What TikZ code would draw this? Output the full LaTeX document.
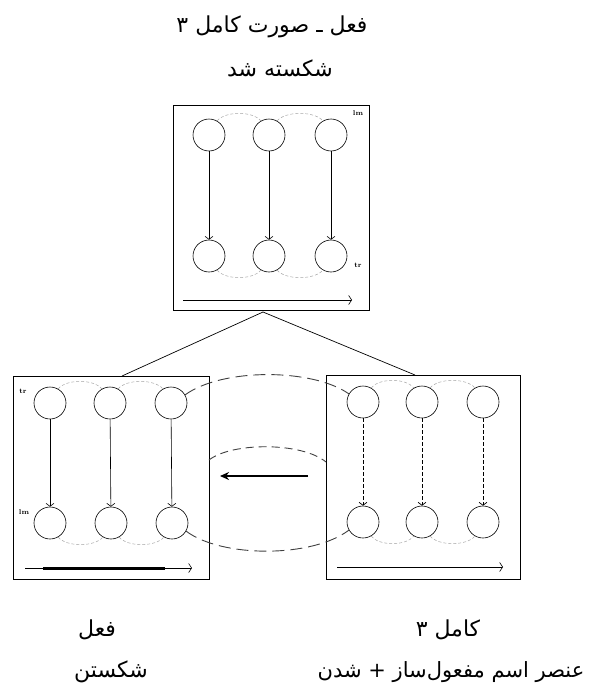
\documentclass[tikz,border=0pt]{standalone}
\usepackage{fontspec}
\usetikzlibrary{arrows.meta,calc}
\newfontfamily\arabicfont[Script=Arabic]{DejaVu Sans}
\TeXXeTstate=1
\begin{document}
\begin{tikzpicture}[x=1pt,y=-1pt,
  cnode/.style={circle,draw,line width=0.6pt,minimum size=32pt,inner sep=0pt},
  boxnode/.style={draw,line width=0.9pt,inner sep=0pt},
  link/.style={draw=gray!70,line width=0.5pt,dash pattern=on 3pt off 2pt},
  bigdash/.style={draw=black!75,line width=0.9pt,dash pattern=on 12pt off 6pt},
  solidarr/.style={line width=0.6pt,-{Straight Barb[length=3pt,width=8pt]}},
  dasharr/.style={line width=0.7pt,dash pattern=on 4pt off 2pt,-{Straight Barb[length=3pt,width=8pt]}},
  timearr/.style={line width=0.6pt,-{Straight Barb[length=3pt,width=9pt]}},
  tag/.style={font=\fontsize{7}{7}\selectfont\bfseries,inner sep=0pt},
  ttext/.style={font=\arabicfont\fontsize{22}{22}\selectfont,inner sep=0pt}
]
\useasboundingbox (0,0) rectangle (589,688);
% boxes
\node[boxnode,minimum width=196pt,minimum height=205pt] (tbox) at (271,207.5) {};
\node[boxnode,minimum width=196pt,minimum height=203pt] (lbox) at (111,477.5) {};
\node[boxnode,minimum width=194pt,minimum height=204pt] (rbox) at (423,477) {};
% top box circles
\node[cnode] (t1) at (209,135) {};
\node[cnode] (t2) at (269,135) {};
\node[cnode] (t3) at (331,135) {};
\node[cnode] (t4) at (209,256) {};
\node[cnode] (t5) at (269,256) {};
\node[cnode] (t6) at (331,256) {};
% left box circles
\node[cnode] (l1) at (50,403) {};
\node[cnode] (l2) at (110,403) {};
\node[cnode] (l3) at (171,403) {};
\node[cnode] (l4) at (50,523) {};
\node[cnode] (l5) at (111,523) {};
\node[cnode] (l6) at (172,523) {};
% right box circles
\node[cnode] (r1) at (363,402) {};
\node[cnode] (r2) at (422,402) {};
\node[cnode] (r3) at (483,402) {};
\node[cnode] (r4) at (363,522) {};
\node[cnode] (r5) at (422,522) {};
\node[cnode] (r6) at (483,522) {};
% vertical arrows
\foreach \a/\b in {t1/t4,t2/t5,t3/t6,l1/l4,l2/l5,l3/l6}
  \draw[solidarr] (\a) -- (\b);
\foreach \a/\b in {r1/r4,r2/r5,r3/r6}
  \draw[dasharr] (\a) -- (\b);
% gray links
\foreach \a/\b in {t1/t2,t2/t3,l1/l2,l2/l3,r1/r2,r2/r3}
  \draw[link] (\a.60) .. controls ($(\a.60)+(8,-10)$) and ($(\b.120)+(-8,-10)$) .. (\b.120);
\foreach \a/\b in {t4/t5,t5/t6,l4/l5,l5/l6,r4/r5,r5/r6}
  \draw[link] (\a.-60) .. controls ($(\a.-60)+(8,10)$) and ($(\b.-120)+(-8,10)$) .. (\b.-120);
% tags
\node[tag] (tg1) at (358,113) {lm};
\node[tag] (tg2) at (358,265) {tr};
\node[tag] (tg3) at (23,391) {tr};
\node[tag] (tg4) at (24,512) {lm};
% time arrows
\coordinate (ta1) at (183,300); \coordinate (ta2) at (352,300);
\draw[timearr] (ta1) -- (ta2);
\coordinate (la1) at (25,568); \coordinate (la2) at (192,568);
\coordinate (lt1) at (43,568); \coordinate (lt2) at (165,568);
\draw[timearr] (la1) -- (la2);
\draw[line width=3pt] (lt1) -- (lt2);
\coordinate (ra1) at (337,567); \coordinate (ra2) at (503,567);
\draw[timearr] (ra1) -- (ra2);
% tree lines
\coordinate (apex) at (263,312);
\coordinate (lj) at (122,376);
\coordinate (rj) at (415,375);
\draw[line width=0.7pt] (lj) -- (apex) -- (rj);
% big dashed connections
\draw[bigdash] (l3.30) .. controls (222,368) and (312,368) .. (r1.150);
\draw[bigdash] (l6.-30) .. controls (222,558) and (312,558) .. (r4.210);
\coordinate (ie1) at (209,460); \coordinate (ie2) at (326,462);
\draw[bigdash,dash pattern=on 8pt off 5pt] (ie1) .. controls (232,442) and (302,442) .. (ie2);
\coordinate (ha1) at (308,476); \coordinate (ha2) at (220,476);
\draw[line width=1.6pt,-{Stealth[length=9pt,width=8pt]}] (ha1) -- (ha2);
% texts
\node[ttext] (h1) at (272,27) {\beginR فعل ـ صورت کامل ۳\endR};
\node[ttext] (h2) at (280,68) {\beginR شکسته شد\endR};
\node[ttext] (b1) at (97,630) {\beginR فعل\endR};
\node[ttext] (b2) at (111,672) {\beginR شکستن\endR};
\node[ttext] (b3) at (448,630) {\beginR کامل ۳\endR};
\node[ttext,font=\arabicfont\fontsize{21}{21}\selectfont] (b4) at (451,672) {\beginR عنصر اسم مفعول‌ساز + شدن\endR};
\end{tikzpicture}
\end{document}
